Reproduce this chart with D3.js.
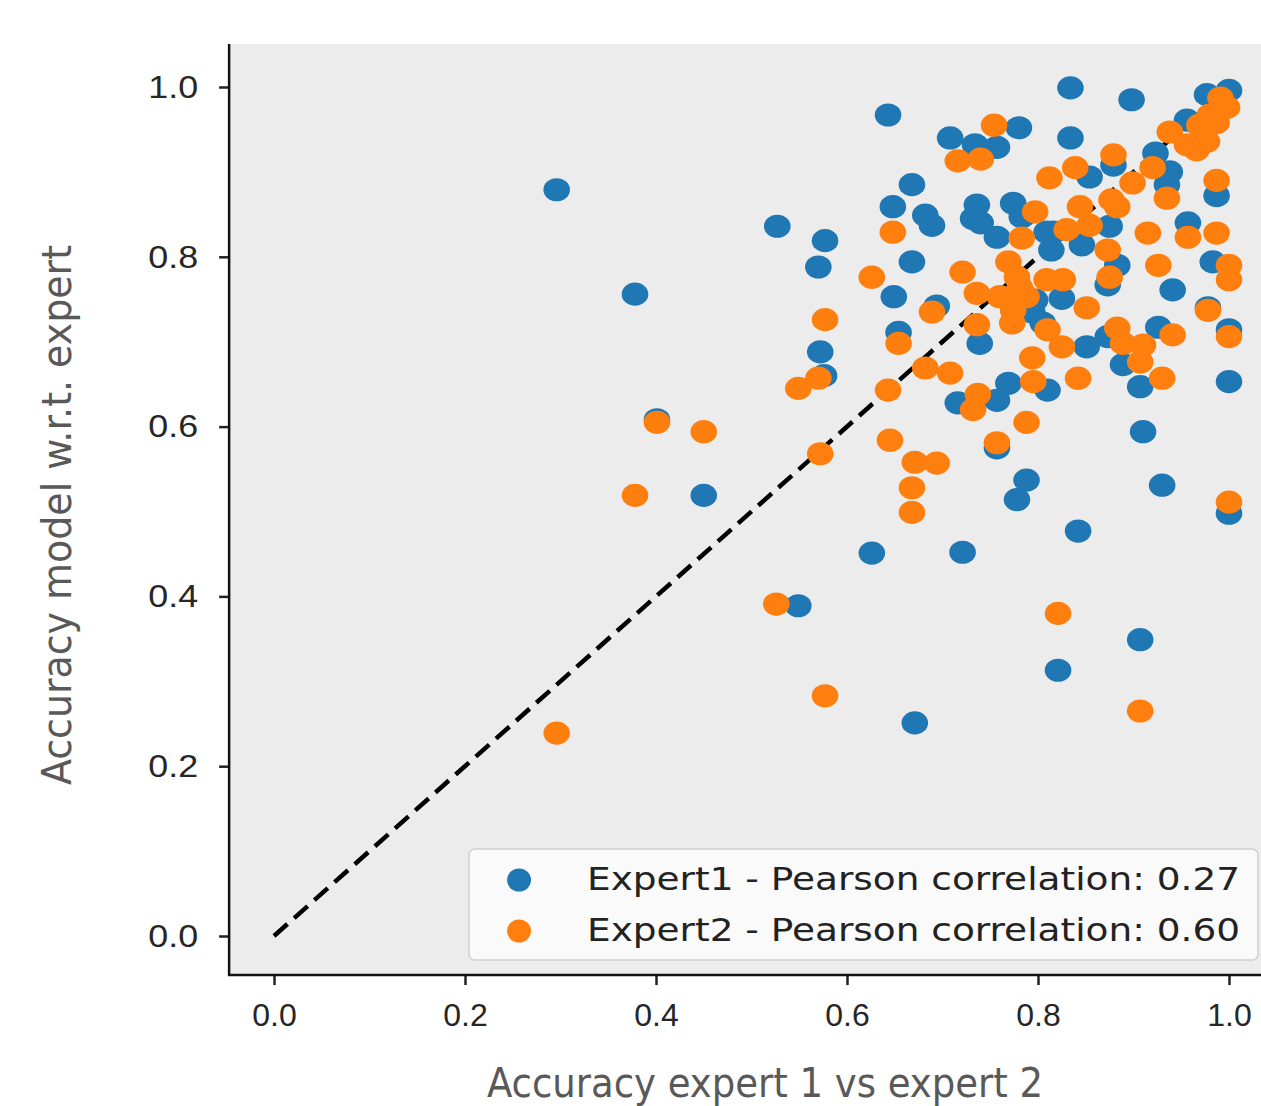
<!DOCTYPE html>
<html lang="en">
<head>
<meta charset="UTF-8">
<title>Accuracy scatter</title>
<script src="https://d3js.org/d3.v7.min.js"></script>
<style>
 body { margin: 0; background: #fff; }
 svg { display: block; font-family: "DejaVu Sans", sans-serif; }
 .tick text { font-size: 32px; fill: #262626; }
 .tick line { stroke: #222; stroke-width: 2.5px; }
 .axis-label { font-family: "DejaVu Sans Condensed", "DejaVu Sans", sans-serif; font-size: 40px; fill: #595959; }
 .legend text { font-size: 32px; fill: #222; }
</style>
</head>
<body>
<div id="chart"></div>
<script>
// values
const ticks = [0.0, 0.2, 0.4, 0.6, 0.8, 1.0];

const expert1 = [
  [0.296,0.879],[0.378,0.756],[0.401,0.608],[0.450,0.519],[0.527,0.836],[0.577,0.819],
  [0.570,0.788],[0.572,0.688],[0.576,0.660],[0.549,0.389],[0.643,0.967],[0.668,0.885],
  [0.648,0.859],[0.649,0.753],[0.654,0.711],[0.668,0.794],[0.682,0.849],[0.689,0.837],
  [0.694,0.742],[0.708,0.940],[0.734,0.932],[0.757,0.929],[0.780,0.952],[0.834,0.999],
  [0.898,0.985],[0.834,0.940],[0.736,0.861],[0.732,0.845],[0.740,0.840],[0.757,0.823],
  [0.774,0.863],[0.783,0.847],[0.809,0.829],[0.977,0.991],[1.000,0.996],[0.956,0.961],
  [0.923,0.922],[0.879,0.908],[0.854,0.894],[0.938,0.900],[0.935,0.885],[0.987,0.872],
  [0.816,0.829],[0.875,0.836],[0.957,0.840],[0.716,0.628],[0.739,0.698],[0.769,0.651],
  [0.757,0.631],[0.797,0.749],[0.794,0.735],[0.757,0.575],[0.788,0.537],[0.778,0.514],
  [0.626,0.451],[0.721,0.452],[0.910,0.594],[0.930,0.531],[1.000,0.498],[0.842,0.477],
  [0.821,0.313],[0.907,0.349],[0.671,0.251],[0.825,0.751],[0.883,0.790],[0.873,0.767],
  [0.941,0.761],[0.983,0.794],[1.000,0.714],[0.851,0.694],[0.873,0.706],[0.926,0.717],
  [0.889,0.673],[0.907,0.647],[1.000,0.653],[0.810,0.643],[0.814,0.808],[0.846,0.814],
  [0.805,0.722],[0.978,0.740]
];

const expert2 = [
  [0.296,0.239],[0.378,0.519],[0.401,0.605],[0.450,0.594],[0.526,0.391],[0.577,0.283],
  [0.572,0.568],[0.549,0.645],[0.570,0.657],[0.577,0.726],[0.626,0.776],[0.648,0.829],
  [0.643,0.643],[0.645,0.584],[0.671,0.558],[0.694,0.557],[0.668,0.528],[0.668,0.499],
  [0.654,0.698],[0.682,0.669],[0.708,0.663],[0.689,0.735],[0.721,0.782],[0.736,0.757],
  [0.736,0.720],[0.737,0.638],[0.732,0.620],[0.757,0.581],[0.788,0.605],[0.754,0.955],
  [0.716,0.913],[0.740,0.915],[0.797,0.853],[0.812,0.893],[0.783,0.822],[0.769,0.794],
  [0.778,0.776],[0.760,0.753],[0.774,0.737],[0.773,0.722],[0.781,0.764],[0.788,0.753],
  [0.809,0.773],[0.826,0.773],[0.810,0.714],[0.794,0.681],[0.795,0.653],[0.839,0.905],
  [0.879,0.920],[0.899,0.887],[0.920,0.905],[0.938,0.947],[0.956,0.932],[0.966,0.926],
  [0.977,0.936],[0.969,0.955],[0.980,0.967],[0.991,0.987],[0.998,0.976],[0.987,0.958],
  [0.935,0.869],[0.987,0.890],[0.844,0.859],[0.877,0.867],[0.883,0.859],[0.854,0.837],
  [0.830,0.832],[0.915,0.828],[0.987,0.828],[0.957,0.823],[0.873,0.808],[0.875,0.776],
  [0.851,0.740],[0.926,0.790],[1.000,0.790],[1.000,0.773],[0.978,0.737],[1.000,0.706],
  [0.825,0.694],[0.883,0.716],[0.889,0.698],[0.910,0.696],[0.941,0.708],[0.907,0.676],
  [0.842,0.657],[0.930,0.657],[0.821,0.380],[0.907,0.265],[1.000,0.511]
];

const seriesNames = [
  "Expert1 - Pearson correlation: 0.27",
  "Expert2 - Pearson correlation: 0.60"
];
const colors = ["#1f77b4", "#ff7f0e"];

const width = 1261;
const height = 1106;

const x = d3.scaleLinear().domain([0, 1]).range([274, 1229]);
const y = d3.scaleLinear().domain([0, 1]).range([936, 87]);

const plotLeft = x(-0.047), plotRight = width;
const plotTop = y(1.0507), plotBottom = y(-0.046);

const svg = d3.select('#chart').append('svg')
  .attr('width', width)
  .attr('height', height);

// axes background
svg.append('rect')
  .attr('x', plotLeft).attr('y', plotTop)
  .attr('width', plotRight - plotLeft).attr('height', plotBottom - plotTop)
  .attr('fill', '#ececec');

// dashed identity line
svg.append('line')
  .attr('x1', x(0)).attr('y1', y(0))
  .attr('x2', x(1)).attr('y2', y(1))
  .attr('stroke', '#000')
  .attr('stroke-width', 4.5)
  .attr('stroke-dasharray', '18,9');

// scatter points, expert 2 drawn on top
[expert1, expert2].forEach((pts, i) => {
  svg.append('g')
    .selectAll('ellipse')
    .data(pts)
    .enter()
    .append('ellipse')
    .attr('cx', d => x(d[0]))
    .attr('cy', d => y(d[1]))
    .attr('rx', 13.3)
    .attr('ry', 11.6)
    .attr('fill', colors[i]);
});

// axes
const fmt = d3.format('.1f');
const yAxis = svg.append('g')
  .attr('transform', `translate(${plotLeft},0)`)
  .call(d3.axisLeft(y).tickValues(ticks).tickFormat(fmt).tickSize(10).tickPadding(21));
const xAxis = svg.append('g')
  .attr('transform', `translate(0,${plotBottom})`)
  .call(d3.axisBottom(x).tickValues(ticks).tickFormat(fmt).tickSize(10).tickPadding(18));
yAxis.select('.domain').remove();
xAxis.select('.domain').remove();
svg.selectAll('.tick text').attr('font-family', null).attr('font-size', null);

// the reference is a bit stretched sideways: widen the y tick labels
yAxis.selectAll('.tick text').each(function() {
  const len = this.getComputedTextLength();
  d3.select(this)
    .attr('textLength', len * 1.12)
    .attr('lengthAdjust', 'spacingAndGlyphs');
});

// spines
svg.append('line')
  .attr('x1', plotLeft).attr('y1', plotTop).attr('x2', plotLeft).attr('y2', plotBottom + 1)
  .attr('stroke', '#111').attr('stroke-width', 2.5);
svg.append('line')
  .attr('x1', plotLeft - 1).attr('y1', plotBottom).attr('x2', plotRight).attr('y2', plotBottom)
  .attr('stroke', '#111').attr('stroke-width', 2.5);

// axis labels
svg.append('text')
  .attr('class', 'axis-label')
  .attr('x', 765).attr('y', 1097)
  .attr('text-anchor', 'middle')
  .attr('textLength', 556)
  .attr('lengthAdjust', 'spacingAndGlyphs')
  .text('Accuracy expert 1 vs expert 2');

svg.append('text')
  .attr('class', 'axis-label')
  .attr('transform', 'translate(71,515) rotate(-90)')
  .attr('text-anchor', 'middle')
  .attr('textLength', 540)
  .attr('lengthAdjust', 'spacingAndGlyphs')
  .text('Accuracy model w.r.t. expert');

// legend
const legend = svg.append('g').attr('class', 'legend');
legend.append('rect')
  .attr('x', 469).attr('y', 849)
  .attr('width', 789).attr('height', 111)
  .attr('rx', 6)
  .attr('fill', '#fafafa')
  .attr('stroke', '#d0d0d0')
  .attr('stroke-width', 1.5);

seriesNames.forEach((name, i) => {
  const cy = 880 + i * 51;
  legend.append('ellipse')
    .attr('cx', 519).attr('cy', cy)
    .attr('rx', 12).attr('ry', 11.5)
    .attr('fill', colors[i]);
  legend.append('text')
    .attr('x', 587).attr('y', cy + 10)
    .attr('textLength', 653)
    .attr('lengthAdjust', 'spacingAndGlyphs')
    .text(name);
});
</script>
</body>
</html>
